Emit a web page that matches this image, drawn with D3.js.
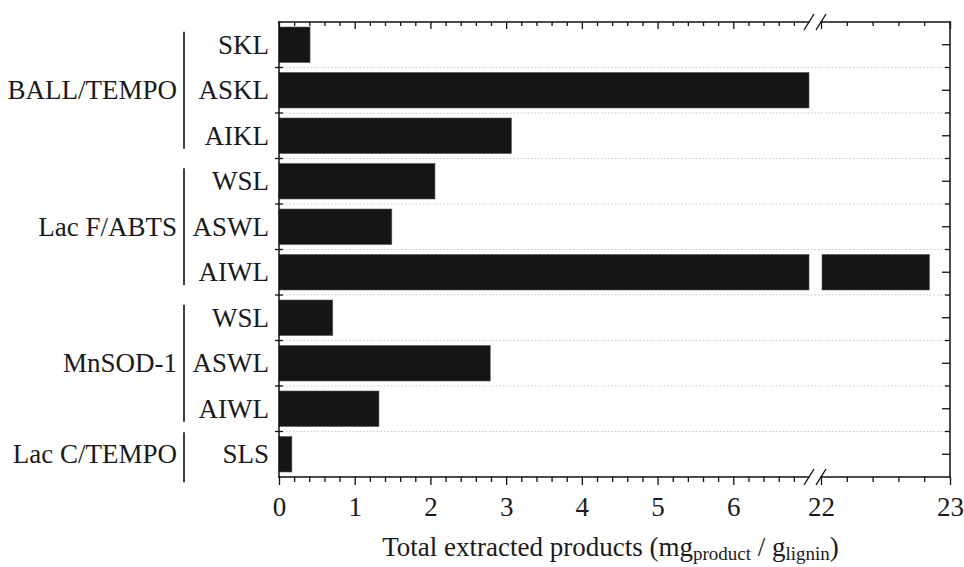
<!DOCTYPE html>
<html>
<head>
<meta charset="utf-8">
<script src="https://cdn.jsdelivr.net/npm/d3@7"></script>
<style>
  body { margin: 0; background: #fff; }
  text { font-family: "Liberation Serif", "Times New Roman", serif; fill: #1a1a1a; }
</style>
</head>
<body>
<script>
// data
const groups = ["BALL/TEMPO", "Lac F/ABTS", "MnSOD-1", "Lac C/TEMPO"];
const categories = ["SKL", "ASKL", "AIKL", "WSL", "ASWL", "AIWL", "WSL", "ASWL", "AIWL", "SLS"];
const categoryGroup = [0, 0, 0, 1, 1, 1, 2, 2, 2, 3];
// ASKL runs into the axis break, drawn up to the break start
const values = [0.41, 7.0, 3.07, 2.06, 1.49, 22.84, 0.71, 2.79, 1.32, 0.17];
const ticksLeft = [0, 1, 2, 3, 4, 5, 6];
const ticksRight = [22, 23];

const width = 964, height = 567;
const plotLeft = 279, plotRight = 950, plotTop = 22, plotBottom = 477;
const breakStart = 809, breakEnd = 821;
const fontSize = 27;

const svg = d3.select("body").append("svg")
    .attr("width", width)
    .attr("height", height);

const xL = d3.scaleLinear().domain([0, 7]).range([plotLeft, breakStart]);
const xR = d3.scaleLinear().domain([22, 23]).range([breakEnd, plotRight]);
const y = d3.scaleBand().domain(d3.range(categories.length))
    .range([plotTop, plotBottom]).paddingInner(0.22).paddingOuter(0.11);
const step = y.step();
const boundaries = d3.range(1, categories.length).map(i => plotTop + i * step);

// dotted grid at category boundaries
svg.selectAll(".grid")
    .data(boundaries)
    .enter()
    .append("line")
    .attr("x1", plotLeft).attr("x2", plotRight)
    .attr("y1", d => d).attr("y2", d => d)
    .attr("stroke", "#c8c8c8")
    .attr("stroke-width", 1)
    .attr("stroke-dasharray", "1.5,2");

// bars, left part
svg.selectAll(".barL")
    .data(values)
    .enter()
    .append("rect")
    .attr("x", xL(0))
    .attr("y", (d, i) => y(i))
    .attr("width", d => xL(Math.min(d, 7)) - xL(0))
    .attr("height", y.bandwidth())
    .attr("fill", "#151515")
    .attr("stroke", "#555")
    .attr("stroke-width", 0.6);

// bars, part past the break
svg.selectAll(".barR")
    .data(values.map((v, i) => ({ v, i })).filter(d => d.v > 22))
    .enter()
    .append("rect")
    .attr("x", xR(22) + 1)
    .attr("y", d => y(d.i))
    .attr("width", d => xR(d.v) - xR(22) - 1)
    .attr("height", y.bandwidth())
    .attr("fill", "#151515")
    .attr("stroke", "#555")
    .attr("stroke-width", 0.6);

// axes
function styleAxis(g) {
    g.select(".domain").remove();
    g.selectAll("line").attr("stroke", "#111").attr("stroke-width", 1.3);
    g.selectAll("text").attr("font-size", fontSize).attr("fill", "#1a1a1a")
        .style("font-family", "'Liberation Serif', 'Times New Roman', serif");
}
const minorL = d3.range(0, 7.01, 0.2).filter(v => Math.abs(v - Math.round(v)) > 0.01);
const minorR = d3.range(22.2, 22.9, 0.2);

svg.append("g").attr("transform", `translate(0,${plotBottom})`)
    .call(d3.axisBottom(xL).tickValues(minorL).tickSize(5).tickFormat(""))
    .call(styleAxis);
svg.append("g").attr("transform", `translate(0,${plotBottom})`)
    .call(d3.axisBottom(xR).tickValues(minorR).tickSize(5).tickFormat(""))
    .call(styleAxis);
svg.append("g").attr("transform", `translate(0,${plotBottom})`)
    .call(d3.axisBottom(xL).tickValues(ticksLeft).tickSize(8).tickPadding(12).tickFormat(d3.format("d")))
    .call(styleAxis);
svg.append("g").attr("transform", `translate(0,${plotBottom})`)
    .call(d3.axisBottom(xR).tickValues(ticksRight).tickSize(8).tickPadding(12).tickFormat(d3.format("d")))
    .call(styleAxis);

// top axes, ticks pointing inward
svg.append("g").attr("transform", `translate(0,${plotTop})`)
    .call(d3.axisTop(xL).tickValues(minorL).tickSize(-4).tickFormat(""))
    .call(styleAxis);
svg.append("g").attr("transform", `translate(0,${plotTop})`)
    .call(d3.axisTop(xR).tickValues(minorR).tickSize(-4).tickFormat(""))
    .call(styleAxis);
svg.append("g").attr("transform", `translate(0,${plotTop})`)
    .call(d3.axisTop(xL).tickValues(ticksLeft).tickSize(-7).tickFormat(""))
    .call(styleAxis);
svg.append("g").attr("transform", `translate(0,${plotTop})`)
    .call(d3.axisTop(xR).tickValues(ticksRight).tickSize(-7).tickFormat(""))
    .call(styleAxis);

// frame with gaps at the break
const frame = [
    [plotLeft, plotTop, breakStart, plotTop], [breakEnd, plotTop, plotRight, plotTop],
    [plotLeft, plotBottom, breakStart, plotBottom], [breakEnd, plotBottom, plotRight, plotBottom],
    [plotLeft, plotTop, plotLeft, plotBottom], [plotRight, plotTop, plotRight, plotBottom]
];
svg.selectAll(".frame")
    .data(frame)
    .enter()
    .append("line")
    .attr("x1", d => d[0]).attr("y1", d => d[1])
    .attr("x2", d => d[2]).attr("y2", d => d[3])
    .attr("stroke", "#111")
    .attr("stroke-width", 1.5)
    .attr("stroke-linecap", "square");

// break marks
const slashes = [];
[plotTop, plotBottom].forEach(yy => [breakStart, breakEnd].forEach(xx => slashes.push([xx, yy])));
svg.selectAll(".slash")
    .data(slashes)
    .enter()
    .append("line")
    .attr("x1", d => d[0] - 5).attr("y1", d => d[1] + 8)
    .attr("x2", d => d[0] + 5).attr("y2", d => d[1] - 8)
    .attr("stroke", "#111")
    .attr("stroke-width", 1.4);

// left ticks at boundaries (crossing), right ticks inward
svg.selectAll(".ltick")
    .data(boundaries)
    .enter()
    .append("line")
    .attr("x1", plotLeft - 4).attr("x2", plotLeft + 4)
    .attr("y1", d => d).attr("y2", d => d)
    .attr("stroke", "#111").attr("stroke-width", 1.3);
svg.selectAll(".rtickMinor")
    .data(boundaries)
    .enter()
    .append("line")
    .attr("x1", plotRight - 5).attr("x2", plotRight)
    .attr("y1", d => d).attr("y2", d => d)
    .attr("stroke", "#111").attr("stroke-width", 1.3);
svg.selectAll(".rtickMajor")
    .data(d3.range(categories.length))
    .enter()
    .append("line")
    .attr("x1", plotRight - 8).attr("x2", plotRight)
    .attr("y1", i => y(i) + y.bandwidth() / 2).attr("y2", i => y(i) + y.bandwidth() / 2)
    .attr("stroke", "#111").attr("stroke-width", 1.3);

// category labels
svg.selectAll(".cat")
    .data(categories)
    .enter()
    .append("text")
    .attr("x", 269)
    .attr("y", (d, i) => y(i) + y.bandwidth() / 2 + 9)
    .attr("text-anchor", "end")
    .attr("font-size", fontSize)
    .text(d => d);

// group labels and brackets
const groupInfo = groups.map((g, gi) => {
    const idx = categoryGroup.map((c, i) => c === gi ? i : -1).filter(i => i >= 0);
    const c0 = y(idx[0]) + y.bandwidth() / 2;
    const c1 = y(idx[idx.length - 1]) + y.bandwidth() / 2;
    return { name: g, mid: (c0 + c1) / 2, y0: idx.length > 1 ? c0 - 13 : c0 - 22, y1: idx.length > 1 ? c1 + 13 : c1 + 28 };
});
svg.selectAll(".bracket")
    .data(groupInfo)
    .enter()
    .append("line")
    .attr("x1", 184).attr("x2", 184)
    .attr("y1", d => d.y0).attr("y2", d => d.y1)
    .attr("stroke", "#111").attr("stroke-width", 1.6);
svg.selectAll(".grp")
    .data(groupInfo)
    .enter()
    .append("text")
    .attr("x", 177)
    .attr("y", d => d.mid + 9)
    .attr("text-anchor", "end")
    .attr("font-size", fontSize)
    .text(d => d.name);

// axis title
const title = svg.append("text")
    .attr("x", (plotLeft + plotRight) / 2 - 4)
    .attr("y", 556)
    .attr("text-anchor", "middle")
    .attr("font-size", fontSize);
title.append("tspan").text("Total extracted products (mg");
title.append("tspan").attr("font-size", 19).attr("dy", 4).text("product");
title.append("tspan").attr("dy", -4).text(" / g");
title.append("tspan").attr("font-size", 19).attr("dy", 4).text("lignin");
title.append("tspan").attr("dy", -4).text(")");
</script>
</body>
</html>
